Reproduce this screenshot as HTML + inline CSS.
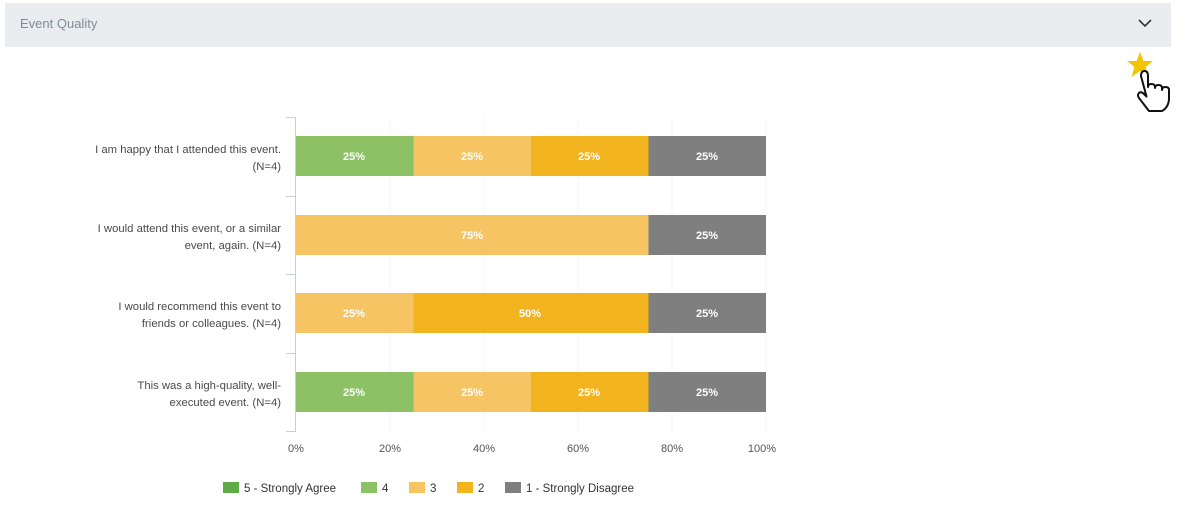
<!DOCTYPE html>
<html><head><meta charset="utf-8"><style>
body{margin:0;background:#fff;width:1177px;height:520px;overflow:hidden;font-family:"Liberation Sans",sans-serif}
</style></head><body>
<svg width="1177" height="520" xmlns="http://www.w3.org/2000/svg" font-family="Liberation Sans, sans-serif">
<rect x="5" y="3" width="1166" height="44" fill="#eaedf0"/>
<text x="20" y="28" font-size="13" fill="#7d8b99">Event Quality</text>
<polyline points="1139,20 1145,26 1151,20" fill="none" stroke="#333" stroke-width="1.6"/>
<polygon points="1140,52 1143.5,61 1153,61 1145.5,67 1148.5,77 1140,71 1131.5,77 1134.5,67 1127,61 1136.5,61" fill="#f5c400"/>
<path d="M1141,76 q0-5 3.5-5 q3.5 0 3.5 5 v11 q0-3 3.5-3 q3.5 0 3.5 3 v1 q0-3 3.5-3 q3.5 0 3.5 3 v2 q0-3 3.5-3 q3.5 0 3.5 3 v8 q0 9-7 13 h-13 l-10-13 q-2-3 0-5 q2-2 5 1 l2.5 2.5 z" fill="#fff" stroke="#111" stroke-width="2" stroke-linejoin="round"/>
<g stroke="#f6f6f6" stroke-width="1">
<line x1="390" y1="117" x2="390" y2="432"/><line x1="484" y1="117" x2="484" y2="432"/><line x1="578" y1="117" x2="578" y2="432"/><line x1="672" y1="117" x2="672" y2="432"/><line x1="766" y1="117" x2="766" y2="432"/>
</g>
<g stroke="#c5cfdc" stroke-width="1">
<line x1="295.5" y1="117" x2="295.5" y2="432"/>
<line x1="286" y1="117.5" x2="295" y2="117.5"/><line x1="286" y1="196.5" x2="295" y2="196.5"/><line x1="286" y1="274.5" x2="295" y2="274.5"/><line x1="286" y1="353.5" x2="295" y2="353.5"/><line x1="286" y1="431.5" x2="295" y2="431.5"/>
</g>
<g>
<rect x="296" y="136" width="117.5" height="40" fill="#8cc265"/><rect x="413.5" y="136" width="117.5" height="40" fill="#f6c463"/><rect x="531" y="136" width="117.5" height="40" fill="#f2b41e"/><rect x="648.5" y="136" width="117.5" height="40" fill="#7f7f7f"/>
<rect x="296" y="215" width="352.5" height="40" fill="#f6c463"/><rect x="648.5" y="215" width="117.5" height="40" fill="#7f7f7f"/>
<rect x="296" y="293" width="117.5" height="40" fill="#f6c463"/><rect x="413.5" y="293" width="235" height="40" fill="#f2b41e"/><rect x="648.5" y="293" width="117.5" height="40" fill="#7f7f7f"/>
<rect x="296" y="372" width="117.5" height="40" fill="#8cc265"/><rect x="413.5" y="372" width="117.5" height="40" fill="#f6c463"/><rect x="531" y="372" width="117.5" height="40" fill="#f2b41e"/><rect x="648.5" y="372" width="117.5" height="40" fill="#7f7f7f"/>
</g>
<g font-size="11" font-weight="bold" fill="#fff" text-anchor="middle">
<text x="354" y="160">25%</text><text x="472" y="160">25%</text><text x="589" y="160">25%</text><text x="707" y="160">25%</text>
<text x="472" y="239">75%</text><text x="707" y="239">25%</text>
<text x="354" y="317">25%</text><text x="530" y="317">50%</text><text x="707" y="317">25%</text>
<text x="354" y="396">25%</text><text x="472" y="396">25%</text><text x="589" y="396">25%</text><text x="707" y="396">25%</text>
</g>
<g font-size="11.3" fill="#4a4a4a" text-anchor="end">
<text x="281" y="153">I am happy that I attended this event.</text><text x="281" y="170">(N=4)</text>
<text x="281" y="232">I would attend this event, or a similar</text><text x="281" y="249">event, again. (N=4)</text>
<text x="281" y="310">I would recommend this event to</text><text x="281" y="327">friends or colleagues. (N=4)</text>
<text x="281" y="389">This was a high-quality, well-</text><text x="281" y="406">executed event. (N=4)</text>
</g>
<g font-size="11" fill="#555" text-anchor="middle">
<text x="296" y="452">0%</text><text x="390" y="452">20%</text><text x="484" y="452">40%</text><text x="578" y="452">60%</text><text x="672" y="452">80%</text><text x="762" y="452">100%</text>
</g>
<g font-size="11.5" fill="#333">
<rect x="223" y="482" width="16" height="11" fill="#5eaa46"/><text x="244" y="492">5 - Strongly Agree</text>
<rect x="361" y="482" width="16" height="11" fill="#8cc265"/><text x="382" y="492">4</text>
<rect x="409" y="482" width="16" height="11" fill="#f6c463"/><text x="430" y="492">3</text>
<rect x="457" y="482" width="16" height="11" fill="#f2b41e"/><text x="478" y="492">2</text>
<rect x="505" y="482" width="16" height="11" fill="#7f7f7f"/><text x="526" y="492">1 - Strongly Disagree</text>
</g>
</svg>
</body></html>
